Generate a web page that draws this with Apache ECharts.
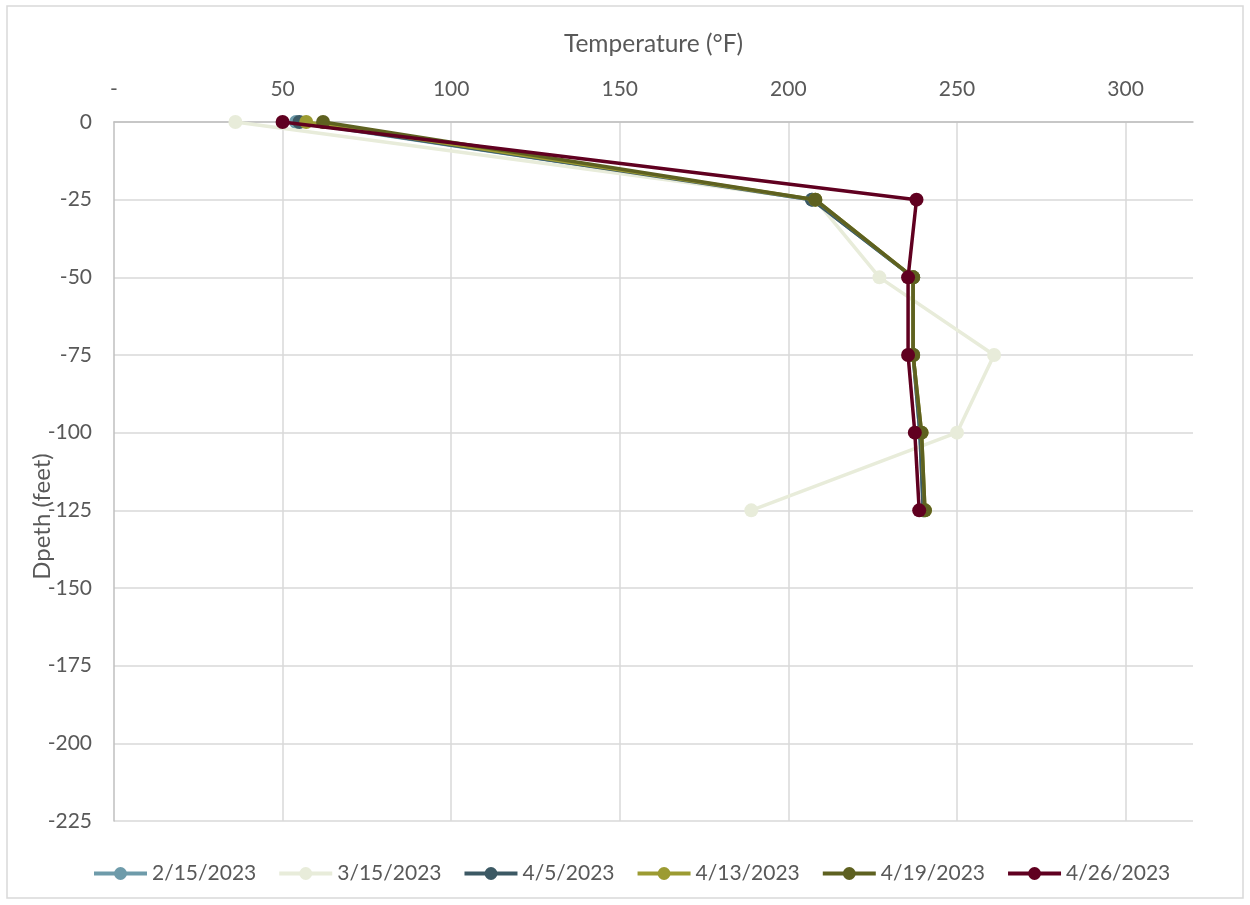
<!DOCTYPE html>
<html>
<head>
<meta charset="utf-8">
<script src="https://cdn.jsdelivr.net/npm/echarts@6/dist/echarts.min.js"></script>
<style>
html,body{margin:0;padding:0;background:#fff;}
#chart{width:1250px;height:905px;}
</style>
</head>
<body>
<div id="chart"></div>
<script>
const depths = [0, -25, -50, -75, -100, -125];
const seriesNames = ['2/15/2023', '3/15/2023', '4/5/2023', '4/13/2023', '4/19/2023', '4/26/2023'];
const temps_0215 = [54, 207, 237, 237, 239, 240];
const temps_0315 = [36, 208, 227, 261, 250, 189];
const temps_0405 = [55, 207, 237, 237, 239, 240];
const temps_0413 = [57, 208, 237, 237, 239.5, 240.5];
const temps_0419 = [62, 208, 237, 237, 239.5, 240.5];
const temps_0426 = [50, 238, 235.5, 235.5, 237.5, 238.8];
const colors = ['#6E9BAA', '#E8ECDA', '#3C5964', '#9C9B32', '#5E6120', '#600020'];
const xTicks = [0, 50, 100, 150, 200, 250, 300];

const allTemps = [temps_0215, temps_0315, temps_0405, temps_0413, temps_0419, temps_0426];
const font = 'Lato, "Open Sans", sans-serif';

const chart = echarts.init(document.getElementById('chart'));
chart.setOption({
  animation: false,
  color: colors,
  graphic: [{
    type: 'rect',
    shape: {x: 7, y: 6, width: 1236, height: 892},
    style: {fill: 'none', stroke: '#D9D9D9', lineWidth: 1.5},
    silent: true
  }],
  grid: {left: 114, top: 122, right: 57, bottom: 84, containLabel: false},
  xAxis: {
    type: 'value',
    position: 'top',
    min: 0, max: 320, interval: 50,
    name: 'Temperature (°F)',
    nameLocation: 'middle',
    nameGap: 65,
    nameMoveOverlap: false,
    nameTextStyle: {fontFamily: font, fontSize: 24.5, color: '#595959'},
    axisLine: {show: true, lineStyle: {color: '#BFBFBF', width: 1.5}},
    axisTick: {show: false},
    axisLabel: {
      margin: 22, fontFamily: font, fontSize: 21, color: '#595959',
      showMaxLabel: false,
      formatter: function (v) { return v === 0 ? '-' : (xTicks.indexOf(v) >= 0 ? String(v) : ''); }
    },
    splitLine: {show: true, showMinLine: false, showMaxLine: false, lineStyle: {color: '#D9D9D9', width: 1.5}}
  },
  yAxis: {
    type: 'value',
    min: -225, max: 0, interval: 25,
    name: 'Dpeth (feet)',
    nameLocation: 'middle',
    nameGap: 60,
    nameMoveOverlap: false,
    nameTextStyle: {fontFamily: font, fontSize: 24, color: '#595959', padding: [0, 90, 0, 0]},
    axisLine: {show: true, lineStyle: {color: '#BFBFBF', width: 1.5}},
    axisTick: {show: false},
    axisLabel: {margin: 22, fontFamily: font, fontSize: 21, color: '#595959'},
    splitLine: {show: true, lineStyle: {color: '#D9D9D9', width: 1.5}}
  },
  legend: {
    bottom: 16,
    left: 87,
    itemWidth: 53,
    itemHeight: 16,
    itemGap: 21,
    lineStyle: {width: 4},
    textStyle: {fontFamily: font, fontSize: 21, color: '#595959'},
    data: seriesNames
  },
  series: seriesNames.map(function (name, i) {
    return {
      name: name,
      type: 'line',
      data: allTemps[i].map(function (t, j) { return [t, depths[j]]; }),
      symbol: 'circle',
      symbolSize: 14,
      lineStyle: {width: 3.5, color: colors[i]},
      itemStyle: {color: colors[i]},
      z: 2 + i
    };
  })
});
</script>
</body>
</html>
